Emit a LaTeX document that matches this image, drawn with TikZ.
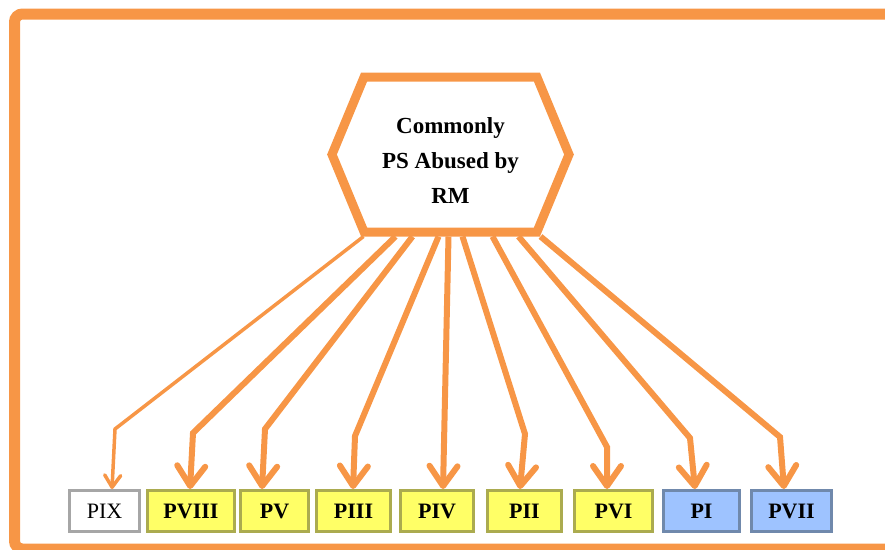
\documentclass[tikz,border=0pt]{standalone}
\usepackage{fontspec}
\setmainfont{Liberation Serif}
\usepackage{tikz}
\usetikzlibrary{arrows.meta}
\usetikzlibrary{shapes}
\usetikzlibrary{positioning}

\definecolor{frameorange}{HTML}{F79646}
\definecolor{boxgray}{HTML}{A6A6A6}
\definecolor{yellowfill}{HTML}{FFFF66}
\definecolor{yellowline}{HTML}{ABAB4F}
\definecolor{bluefill}{HTML}{9EC3FF}
\definecolor{blueline}{HTML}{7089AC}

\tikzset{
    flow/.style={draw=frameorange,line width=6pt,-{Straight Barb[round,length=20pt,width=28pt]}},
    thinflow/.style={draw=frameorange,line width=3.5pt,-{Straight Barb[round,length=12pt,width=16pt]}},
    yellowbox/.style={fill=yellowfill,draw=yellowline},
    bluebox/.style={fill=bluefill,draw=blueline},
}

\begin{document}
\begin{tikzpicture}[x=1pt,y=-1pt]
    \clip (0,0) rectangle (885,549);
    \draw[frameorange,line width=11pt,rounded corners=8pt] (14.5,14) rectangle (900,549);

    \node[signal,signal to=east and west,signal pointer angle=135,draw=frameorange,line width=9pt,
          minimum width=237pt,minimum height=155pt,inner sep=0pt,align=center,
          font=\bfseries\fontsize{23}{35}\selectfont] (hub) at (450.5,154.5) {\rule{0pt}{28pt}Commonly\\PS Abused by\\RM};

    \begin{scope}[every node/.style={draw,line width=3pt,minimum height=41pt,inner sep=0pt,font=\bfseries\fontsize{22}{26}\selectfont}]
    \node[fill=white,draw=boxgray,font=\fontsize{22}{26}\selectfont,minimum width=70pt] (pix) at (104.5,511) {PIX};
    \node[yellowbox,minimum width=87pt] (pviii) at (191,511) {PVIII};
    \node[yellowbox,minimum width=68pt] (pv) at (274.5,511) {PV};
    \node[yellowbox,minimum width=74pt] (piii) at (353.5,511) {PIII};
    \node[yellowbox,minimum width=73pt] (piv) at (437,511) {PIV};
    \node[yellowbox,minimum width=74pt] (pii) at (524.5,511) {PII};
    \node[yellowbox,minimum width=78pt] (pvi) at (613.5,511) {PVI};
    \node[bluebox,minimum width=76pt] (pi) at (701.5,511) {PI};
    \node[bluebox,minimum width=80pt] (pvii) at (791.5,511) {PVII};
    \end{scope}

    % bends
    \coordinate (k9) at (115,429);
    \coordinate (k8) at (193,433);
    \coordinate (k5) at (265,429);
    \coordinate (k3) at (355,436);
    \coordinate (k2) at (525,434);
    \coordinate (k6) at (607,447);
    \coordinate (k1) at (690,438);
    \coordinate (k7) at (780,437);

    \draw[thinflow] ([xshift=-87pt]hub.south) -- (k9) -- ([xshift=7.5pt]pix.north);
    \draw[flow] ([xshift=-55pt]hub.south) -- (k8) -- ([xshift=-1pt]pviii.north);
    \draw[flow] ([xshift=-38pt]hub.south) -- (k5) -- ([xshift=-12.5pt]pv.north);
    \draw[flow] ([xshift=-12pt]hub.south) -- (k3) -- ([xshift=-0.5pt]piii.north);
    \draw[flow] ([xshift=-2pt]hub.south) -- ([xshift=6pt]piv.north);
    \draw[flow] ([xshift=12pt]hub.south) -- (k2) -- ([xshift=-4.5pt]pii.north);
    \draw[flow] ([xshift=42pt]hub.south) -- (k6) -- ([xshift=-6.5pt]pvi.north);
    \draw[flow] ([xshift=68pt]hub.south) -- (k1) -- ([xshift=-6.5pt]pi.north);
    \draw[flow] ([xshift=90pt]hub.south) -- (k7) -- ([xshift=-7.5pt]pvii.north);
\end{tikzpicture}
\end{document}
